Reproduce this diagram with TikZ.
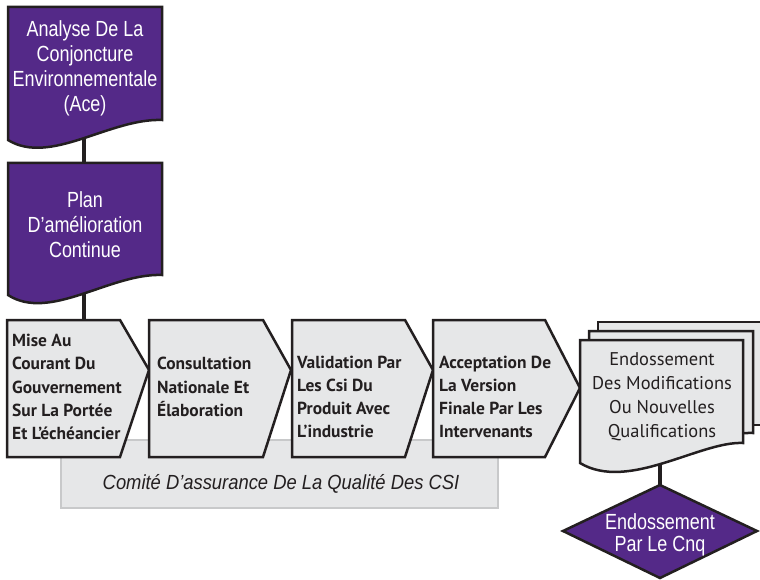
\documentclass[tikz,border=0pt]{standalone}
\usepackage{fontspec}
\setmainfont{Liberation Sans}
\newfontfamily\narrowfont[FakeStretch=0.82]{Liberation Sans}
\newfontfamily\bandfont[FakeStretch=0.9]{Liberation Sans}
\newfontfamily\stepfont{PT Sans}
\usetikzlibrary{positioning}

\definecolor{acepurple}{RGB}{84,41,136}
\definecolor{boxgray}{RGB}{230,231,232}
\definecolor{edgegray}{RGB}{35,31,32}
\definecolor{framegray}{RGB}{200,201,202}

\begin{document}
\begin{tikzpicture}[
            x=1bp, y=-1bp,
            purplebox/.style={fill=acepurple, draw=edgegray, line width=2.5bp, line join=miter},
            stepbox/.style={fill=boxgray, draw=edgegray, line width=2.5bp, line join=miter},
            link/.style={draw=edgegray, line width=3.5bp},
            purpletext/.style={text=white, align=center, inner sep=0pt, font=\fontsize{22}{25}\narrowfont},
            steptext/.style={text=edgegray, align=left, anchor=west, inner sep=0pt, font=\fontsize{17.5}{23.3}\stepfont\bfseries},
            doctext/.style={text=edgegray, align=center, inner sep=0pt, font=\fontsize{18.5}{24}\stepfont}
        ]
        \useasboundingbox (0,0) rectangle (760,580);

        % connector points
        \coordinate (ace) at (84,70);
        \coordinate (plan) at (84,225);
        \coordinate (mise) at (84,388);
        \coordinate (endo) at (660,400);
        \coordinate (cnq) at (660,531);

        \draw [link] (ace) -- (plan);
        \draw [link] (plan) -- (mise);
        \draw [link] (endo) -- (cnq);

        % purple documents
        \draw [purplebox] (8,7) -- (162,7) -- (162,120) .. controls (110,118) and (50,166) .. (8,140) -- cycle;
        \draw [purplebox] (8,163) -- (162,163) -- (162,275) .. controls (110,273) and (50,322) .. (8,295) -- cycle;
        \node [purpletext] (ace-t) at (85,68) {Analyse De La\\Conjoncture\\Environnementale\\(Ace)};
        \node [purpletext] (plan-t) at (85,225) {Plan\\D’amélioration\\Continue};

        % committee band
        \draw [framegray, fill=boxgray, line width=2bp] (61,440) rectangle (498,508);
        \node (comite) at (281,484) [text=edgegray, inner sep=0pt, font=\fontsize{20.5}{22}\bandfont\itshape] {Comité D’assurance De La Qualité Des CSI};

        % steps
        \draw [stepbox] (7,320) -- (120,320) -- (149,370) -- (120,457) -- (7,457) -- cycle;
        \draw [stepbox] (149,320) -- (263,320) -- (291,370) -- (263,457) -- (149,457) -- cycle;
        \draw [stepbox] (292,320) -- (405,320) -- (433,370) -- (405,457) -- (292,457) -- cycle;
        \draw [stepbox] (433,320) -- (545,320) -- (580,388) -- (545,457) -- (433,457) -- cycle;
        \node [steptext] (mise-t) at (12,387) {Mise Au\\Courant Du\\Gouvernement\\Sur La Portée\\Et L’échéancier};
        \node [steptext] (consult-t) at (157,387) {Consultation\\Nationale Et\\Élaboration};
        \node [steptext] (valid-t) at (297,397) {Validation Par\\Les Csi Du\\Produit Avec\\L’industrie};
        \node [steptext] (accept-t) at (439,397) {Acceptation De\\La Version\\Finale Par Les\\Intervenants};

        % stacked documents
        \draw [stepbox] (598,322) -- (764,322) -- (764,425) -- (598,425) -- cycle;
        \draw [stepbox] (589,331) -- (753,331) -- (753,433) .. controls (710,431) and (637,478) .. (589,455) -- cycle;
        \draw [stepbox] (580,340) -- (743,340) -- (743,443) .. controls (700,441) and (628,492) .. (580,463) -- cycle;
        \node [doctext] (endo-t) at (662,397) {Endossement\\Des Modifications\\Ou Nouvelles\\Qualifications};

        % decision
        \draw [purplebox] (660,485) -- (757,531) -- (660,578) -- (563,531) -- cycle;
        \node [purpletext, font=\fontsize{22}{22}\narrowfont] (cnq-t) at (660,535) {Endossement\\Par Le Cnq};
\end{tikzpicture}
\end{document}
